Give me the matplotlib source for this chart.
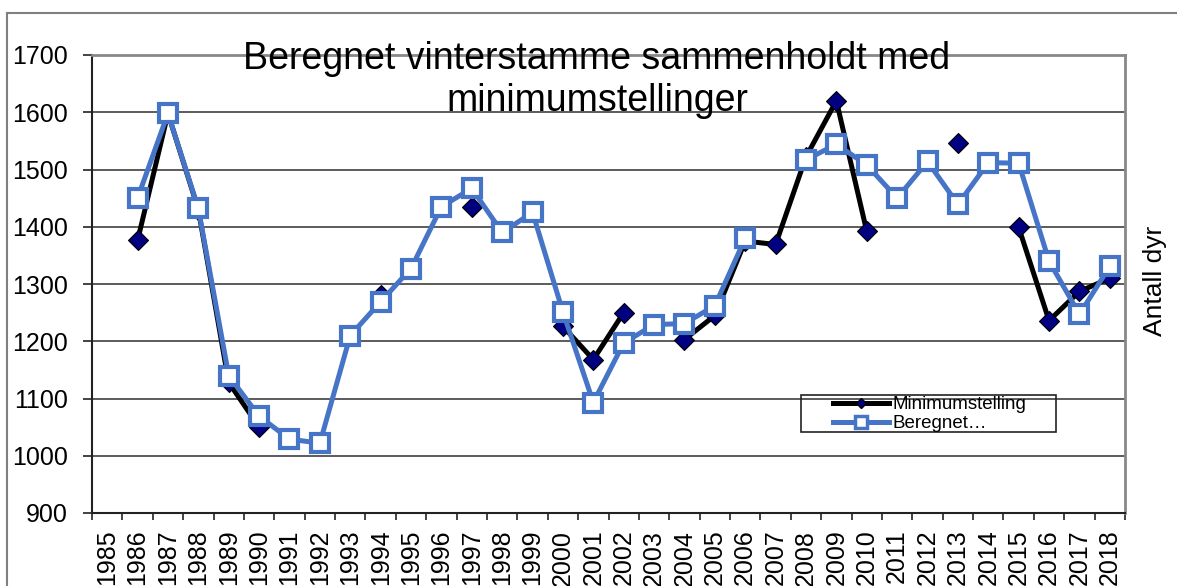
import numpy as np
import matplotlib.pyplot as plt
from matplotlib.lines import Line2D
from matplotlib.patches import Rectangle

plt.rcParams['font.family'] = ['Liberation Sans', 'DejaVu Sans']

nan = np.nan
years = list(range(1985, 2019))
# minimum counts (gaps where no count)
minimumstelling = [nan, 1376, 1598, 1430, 1128, 1050, nan, nan, nan, 1280,
                   nan, nan, 1434, nan, nan, 1226, 1168, 1250, nan, 1203,
                   1245, 1375, 1369, 1522, 1620, 1392, nan, nan, 1546, nan,
                   1399, 1236, 1287, 1310]
# calculated winter stock
beregnet = [nan, 1450, 1598, 1432, 1140, 1069, 1029, 1022, 1210, 1269,
            1327, 1435, 1467, 1390, 1425, 1251, 1093, 1197, 1229, 1231,
            1262, 1380, nan, 1517, 1544, 1508, 1450, 1514, 1439, 1512,
            1511, 1340, 1247, 1331]
ytick_vals = list(range(900, 1701, 100))

blue = '#4674C6'
navy = '#000080'

W, H = 1177, 586
fig = plt.figure(figsize=(W / 100, H / 100), dpi=100)
ax = fig.add_axes([92 / W, 1 - 513 / H, (1125 - 92) / W, (513 - 55) / H])

x = np.arange(len(years))
ax.plot(x, minimumstelling, color='black', lw=3.6, marker='D', ms=10,
        mfc=navy, mec='black', mew=0.8, zorder=3)
ax.plot(x, beregnet, color=blue, lw=3.6, marker='s', ms=13,
        mfc='white', mec=blue, mew=3, zorder=4)

ax.set_xlim(-0.5, len(years) - 0.5)
ax.set_ylim(900, 1700)
ax.set_yticks(ytick_vals)
ax.tick_params(axis='y', labelsize=18, length=6.5, width=1.2, pad=10.8, color='#222222')
ax.yaxis.grid(True, color='#404040', lw=1.2)
ax.set_axisbelow(True)

ax.set_xticks(np.arange(-0.5, len(years), 1))
ax.set_xticklabels([])
ax.set_xticks(x, minor=True)
ax.set_xticklabels([str(y) for y in years], minor=True, rotation=90, fontsize=18)
ax.tick_params(axis='x', which='major', length=5, width=1.2, color='#222222')
ax.tick_params(axis='x', which='minor', length=0, pad=12)

for side in ['left', 'bottom']:
    ax.spines[side].set_color('#222222')
    ax.spines[side].set_linewidth(1.5)
for side in ['top', 'right']:
    ax.spines[side].set_color('#888888')
    ax.spines[side].set_linewidth(2)

fig.text(597 / W, 1 - 41 / H, 'Beregnet vinterstamme sammenholdt med\nminimumstellinger',
         ha='center', va='top', fontsize=27)
fig.text(1155 / W, 1 - 281 / H, 'Antall dyr', rotation=90, ha='center', va='center', fontsize=19)

# outer chart frame
fig.add_artist(Line2D([7 / W, 1], [1 - 13 / H] * 2, color='#808080', lw=1.5))
fig.add_artist(Line2D([7 / W] * 2, [0, 1 - 13 / H], color='#808080', lw=1.5))

# legend
handles = [Line2D([], [], color='black', lw=3.6, marker='D', ms=5, mfc=navy, mec='black'),
           Line2D([], [], color=blue, lw=3.6, marker='s', ms=8, mfc='white', mec=blue, mew=2.5)]
fig.legend(handles, ['Minimumstelling', 'Beregnet\u2026'], loc='upper left',
           bbox_to_anchor=(833 / W, 1 - 396 / H), frameon=False, fontsize=13.5,
           borderpad=0, borderaxespad=0, handlelength=3.0, handletextpad=0.2,
           labelspacing=0.12)
fig.add_artist(Rectangle((801 / W, 1 - 432 / H), 255 / W, 37 / H, transform=fig.transFigure,
                         fill=False, edgecolor='#222222', lw=1.2))

fig.savefig('out.png', dpi=100)
